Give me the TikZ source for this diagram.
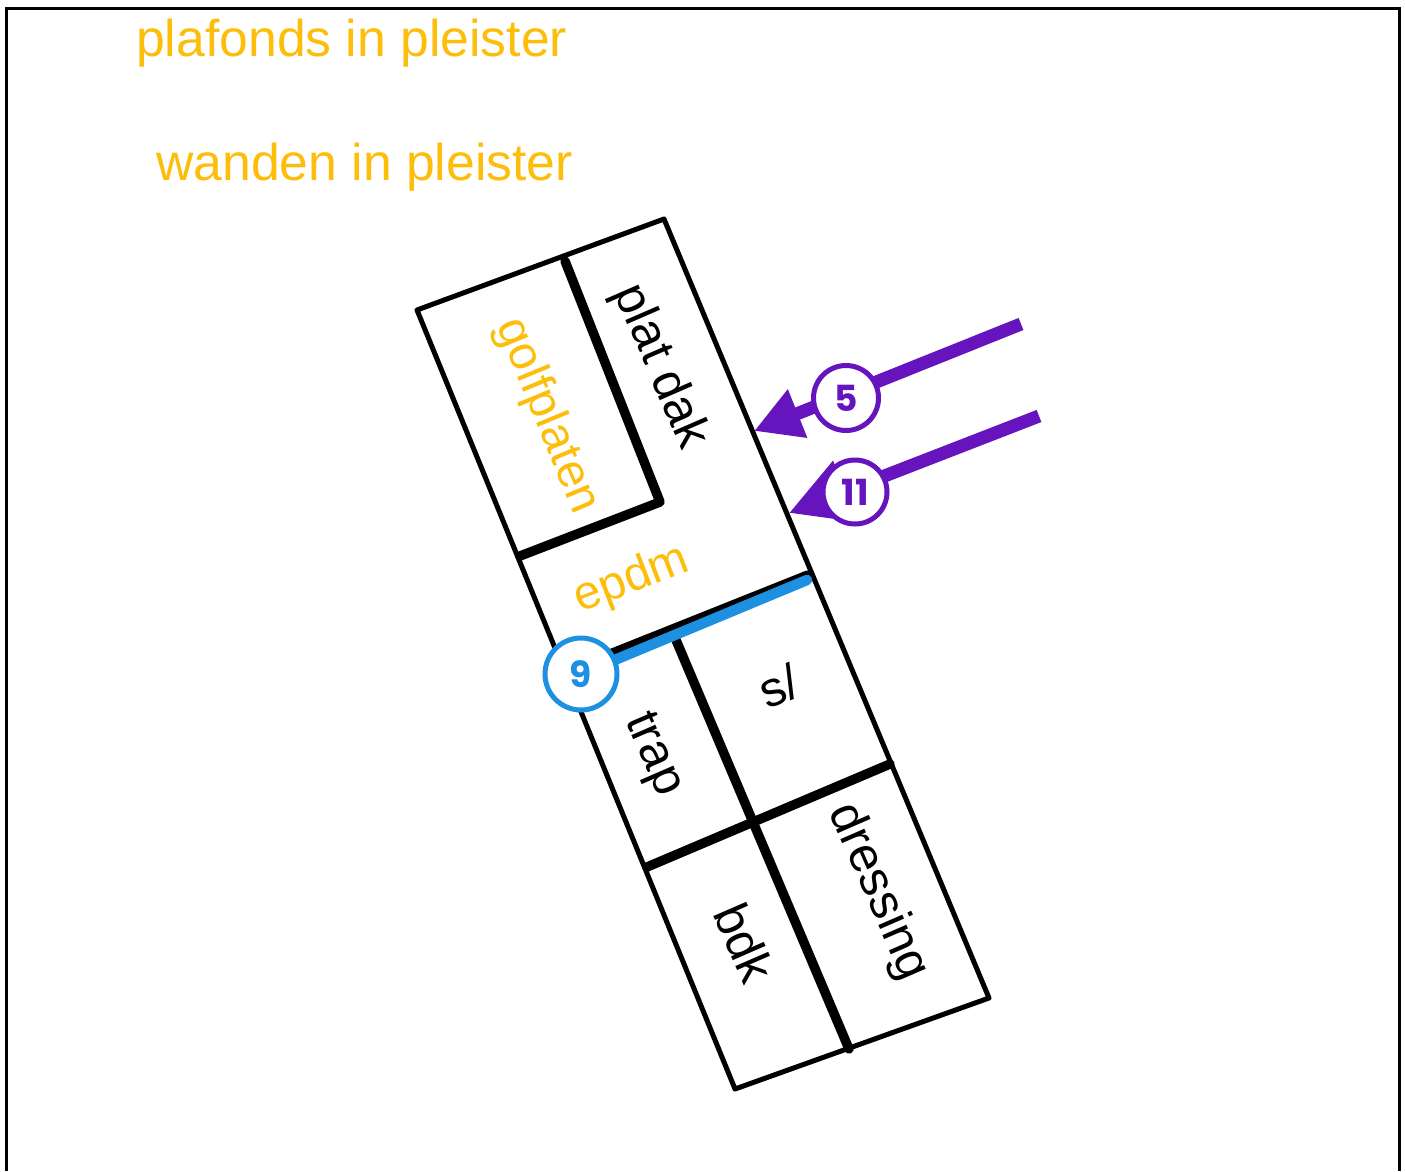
\documentclass[tikz,border=0pt]{standalone}
\usepackage{fontspec}
\setmainfont{Liberation Sans}
\newfontfamily\numfont{Poppins}
\usetikzlibrary{arrows.meta,backgrounds}
\definecolor{labelorange}{HTML}{FDBE0B}
\definecolor{markpurple}{HTML}{6514BE}
\definecolor{markblue}{HTML}{1E90E2}
\tikzset{
  x=1pt,y=-1pt,
  thinwall/.style={draw=black,line width=5pt,line join=round,line cap=round},
  thickwall/.style={draw=black,line width=9.5pt,line join=round,line cap=round},
  blacklabel/.style={text=black,font=\fontsize{49.5}{56}\selectfont,inner sep=0pt},
  orangelabel/.style={text=labelorange,font=\fontsize{47.5}{56}\selectfont,inner sep=0pt},
  titlelabel/.style={text=labelorange,font=\fontsize{51.7}{60}\selectfont,inner sep=0pt,anchor=west},
  marker/.style={circle,fill=white,draw=#1,text=#1,line width=5pt,inner sep=0pt,font=\numfont\bfseries\fontsize{36}{42}\selectfont},
  leader/.style={draw=markpurple,line width=13pt,-{Triangle[length=47pt,width=49pt,fill=markpurple]}},
  leaderbig/.style={draw=markpurple,line width=13pt,-{Triangle[length=60pt,width=62pt,fill=markpurple]}},
}
\begin{document}
\begin{tikzpicture}
\useasboundingbox (0,0) rectangle (1405,1171);
\node[titlelabel] (t1) at (136,43) {plafonds in pleister};
\node[titlelabel] (t2) at (156,167) {wanden in pleister};

\node[orangelabel,rotate=-67.5] (golf) at (547,416) {golfplaten};
\node[blacklabel,rotate=-66.5] (plat) at (660,367) {plat dak};
\node[orangelabel,rotate=21] (epdm) at (632,580) {epdm};
\node[blacklabel,rotate=22] (sl) at (779,686) {s/};
\node[blacklabel,rotate=-66.5] (trap) at (652,755) {trap};
\node[blacklabel,rotate=-66.5] (bdk) at (745,943) {bdk};
\node[blacklabel,rotate=-66.5] (dress) at (878,892) {dressing};

\node[marker=markblue,minimum size=72pt] (m9) at (581,674) {9};
\node[marker=markpurple,minimum size=65pt] (m5) at (846,398) {5};
\node[marker=markpurple,minimum size=64pt] (m11) at (855,492) {11};

\begin{scope}[on background layer]
\fill[white] (0,0) rectangle (1405,1171);
\coordinate (frameA) at (6.5,1171);
\coordinate (frameB) at (6.5,8);
\coordinate (frameC) at (1399,8);
\coordinate (frameD) at (1399,1171);
\draw[line width=3pt] (frameA) -- (frameB) -- (frameC) -- (frameD);

\coordinate (pA) at (417,310);
\coordinate (pB) at (664,219);
\coordinate (pC) at (989,998);
\coordinate (pD) at (735,1089);
\draw[thinwall] (pA) -- (pB) -- (pC) -- (pD) -- cycle;

\coordinate (w1) at (565,261);
\coordinate (w2) at (660,502);
\coordinate (w3) at (520,556);
\draw[thickwall] (w1) -- (w2) -- (w3);
\coordinate (w4) at (676,640);
\coordinate (w5) at (849,1049);
\draw[thickwall] (w4) -- (w5);
\coordinate (w6) at (890,764);
\coordinate (w7) at (647,867);
\draw[thickwall] (w6) -- (w7);
\coordinate (w8) at (808,575);
\coordinate (w9) at (600,658);
\draw[thickwall] (w8) -- (w9);

\coordinate (b1) at (807,580);
\draw[draw=markblue,line width=10.5pt,line cap=round] (b1) -- (m9);

\coordinate (s5) at (1021,324);
\coordinate (e5) at (754,431);
\coordinate (s11) at (1039,416);
\coordinate (e11) at (789,513);
\draw[leader] (s5) -- (e5);
\draw[leaderbig] (s11) -- (e11);
\end{scope}
\end{tikzpicture}
\end{document}
